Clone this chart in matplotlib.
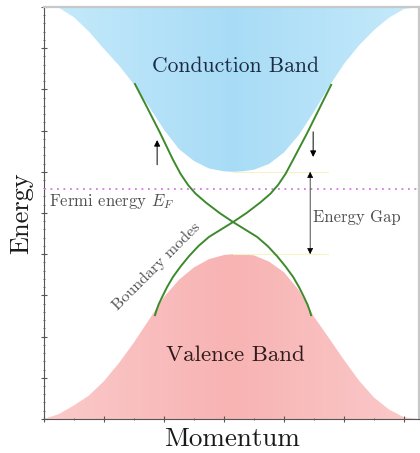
import numpy as np
import matplotlib
matplotlib.use("Agg")
import matplotlib.pyplot as plt
from matplotlib.colors import LinearSegmentedColormap
from matplotlib.ticker import MultipleLocator

plt.rcParams['font.family'] = 'cmr10'
plt.rcParams['mathtext.fontset'] = 'cm'
plt.rcParams['axes.formatter.use_mathtext'] = True

# band edges (momentum, energy)
cb_k = [0.0, 0.5, 1.0, 1.5, 2.0, 2.5, 3.0, 3.5, 4.0, 4.5, 5.0, 5.5, 6.0, 6.3,
        6.6, 7.0, 7.5, 8.0, 8.5, 9.0, 9.5, 10.0, 10.5, 11.0, 11.5, 12.0, 12.5]
cb_e = [10.0, 9.98, 9.75, 9.40, 8.98, 8.58, 8.12, 7.58, 7.02, 6.55, 6.26, 6.08, 6.01, 6.0,
        6.01, 6.05, 6.19, 6.47, 6.90, 7.46, 8.07, 8.62, 9.07, 9.44, 9.74, 9.95, 10.0]

vb_k = cb_k
vb_e = [0.0, 0.12, 0.33, 0.57, 0.92, 1.36, 1.86, 2.41, 2.96, 3.38, 3.68, 3.88, 3.98, 4.0,
        4.0, 3.97, 3.82, 3.56, 3.12, 2.48, 1.96, 1.43, 0.93, 0.52, 0.23, 0.04, 0.0]

# the two boundary modes crossing inside the gap
mode1_k = [3.03, 3.43, 3.87, 4.30, 4.55, 4.80, 5.05, 5.40, 5.85, 6.30, 6.70, 7.10,
           7.45, 7.77, 8.05, 8.30, 8.50, 8.65, 8.78, 8.86, 8.90]
mode1_e = [8.13, 7.57, 6.94, 6.29, 5.95, 5.68, 5.47, 5.25, 5.00, 4.78, 4.60, 4.42,
           4.20, 3.95, 3.70, 3.45, 3.20, 2.98, 2.78, 2.62, 2.52]
mode2_k = [9.57, 9.20, 8.77, 8.30, 8.05, 7.80, 7.55, 7.20, 6.75, 6.30, 5.90, 5.50,
           5.15, 4.83, 4.55, 4.30, 4.10, 3.95, 3.82, 3.74, 3.70]
mode2_e = [8.11, 7.57, 6.94, 6.29, 5.95, 5.68, 5.47, 5.25, 5.00, 4.78, 4.60, 4.42,
           4.20, 3.95, 3.70, 3.45, 3.20, 2.98, 2.78, 2.62, 2.52]

fermi_e = 5.58
cb_min = 6.0
vb_max = 4.0
k_min, k_max = 0.0, 12.5
e_min, e_max = 0.0, 10.0

fig = plt.figure(figsize=(4.2, 4.53), dpi=100)
ax = fig.add_axes([0.1048, 0.0751, 0.893, 0.9095])
ax.set_xlim(k_min, k_max)
ax.set_ylim(e_min, e_max)


def gradient_fill(ax, k, lower, upper, c_edge, c_mid):
    poly = ax.fill_between(k, lower, upper, color=c_mid, lw=0)
    cmap = LinearSegmentedColormap.from_list('g', [c_edge, c_mid, c_edge])
    grad = np.linspace(0, 1, 256).reshape(1, -1)
    im = ax.imshow(grad, cmap=cmap, aspect='auto',
                   extent=[k_min, k_max, e_min, e_max], zorder=1)
    path = poly.get_paths()[0]
    im.set_clip_path(path, transform=ax.transData)
    poly.set_visible(False)


gradient_fill(ax, cb_k, cb_e, [e_max] * len(cb_k), '#c6eafb', '#a8dcf6')
gradient_fill(ax, vb_k, [e_min] * len(vb_k), vb_e, '#fbcaca', '#f8b3b3')

# faint guides at band edges
ax.plot([6.3, 9.45], [cb_min, cb_min], color='#f6f3c8', lw=0.8, zorder=2)
ax.plot([6.3, 9.45], [vb_max, vb_max], color='#f6f3c8', lw=0.8, zorder=2)

ax.axhline(fermi_e, color='#d27ae0', lw=1.3, ls=(0, (1, 2.6)), zorder=3)

ax.plot(mode1_k, mode1_e, color='#3d8a2c', lw=1.4, zorder=4)
ax.plot(mode2_k, mode2_e, color='#3d8a2c', lw=1.4, zorder=4)

head = dict(color='black', lw=0.7, mutation_scale=9, shrinkA=0, shrinkB=0)
ax.annotate('', xy=(3.77, 6.77), xytext=(3.77, 6.17),
            arrowprops=dict(arrowstyle='-|>', **head))
ax.annotate('', xy=(8.97, 6.36), xytext=(8.97, 6.97),
            arrowprops=dict(arrowstyle='-|>', **head))
ax.annotate('', xy=(8.87, cb_min), xytext=(8.87, vb_max),
            arrowprops=dict(arrowstyle='<|-|>', **dict(head, lw=0.5)))

ax.text(6.37, 8.57, 'Conduction Band', ha='center', va='center',
        fontsize=15.5, color='#1c2b42', zorder=5)
ax.text(6.37, 1.55, 'Valence Band', ha='center', va='center',
        fontsize=16.5, color='#2e1c1c', zorder=5)
ax.text(0.17, 5.29, r'Fermi energy $E_F$', ha='left', va='center',
        fontsize=12, color='#505050', zorder=5)
ax.text(8.95, 4.9, 'Energy Gap', ha='left', va='center',
        fontsize=12, color='#505050', zorder=5)
ax.text(3.74, 3.7, 'Boundary modes', ha='center', va='center',
        rotation=45, fontsize=11.5, color='#505050', zorder=5)

ax.set_xlabel('Momentum', fontsize=19.5, labelpad=4, color='#1a1a1a')
ax.set_ylabel('Energy', fontsize=19, labelpad=6, color='#1a1a1a')

ax.xaxis.set_major_locator(MultipleLocator(2))
ax.xaxis.set_minor_locator(MultipleLocator(1))
ax.yaxis.set_major_locator(MultipleLocator(1))
ax.yaxis.set_minor_locator(MultipleLocator(0.2))
ax.tick_params(which='both', direction='inout', color='#555555',
               labelbottom=False, labelleft=False, top=False, right=False)
ax.tick_params(which='major', length=4, width=0.8)
ax.tick_params(which='minor', length=2, width=0.6)

for side in ['left', 'bottom']:
    ax.spines[side].set_color('#555555')
    ax.spines[side].set_linewidth(0.8)
for side in ['top', 'right']:
    ax.spines[side].set_color('#c8c8c8')
    ax.spines[side].set_linewidth(1.6)

fig.savefig('out.png', dpi=100)
